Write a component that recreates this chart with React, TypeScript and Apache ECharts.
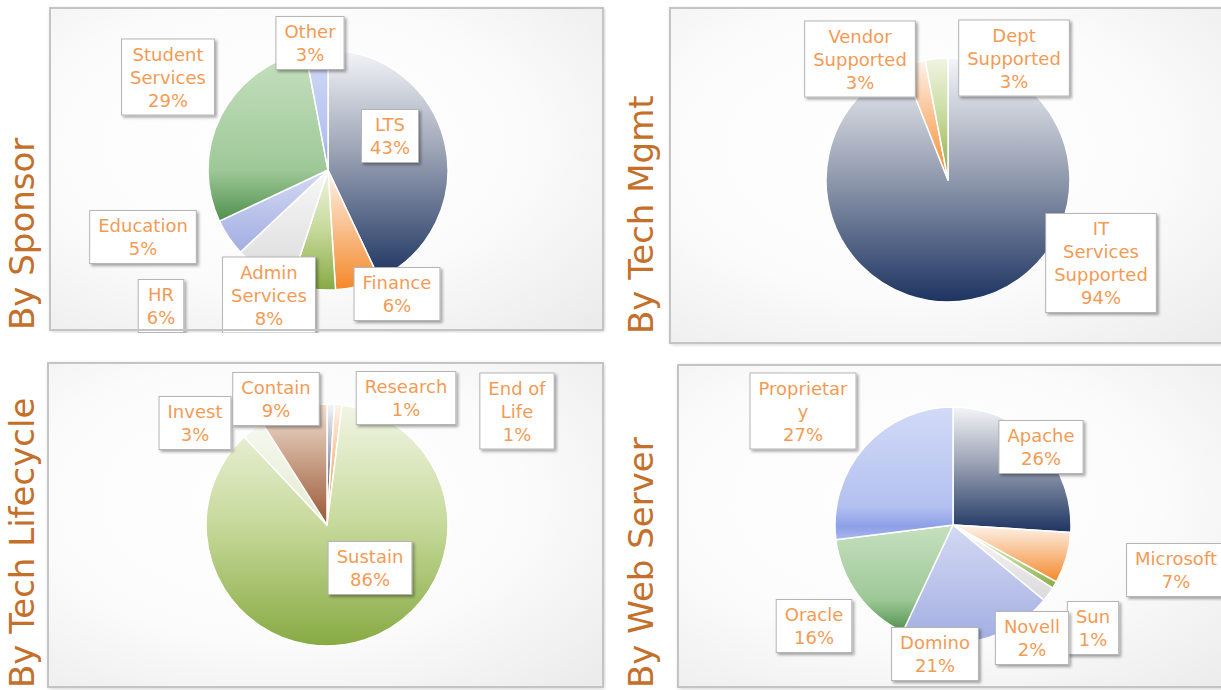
import React, { useEffect, useRef } from "react";
import * as echarts from "echarts";

// ---------------- data ----------------
const panelTitles = ["By Sponsor", "By Tech Mgmt", "By Tech Lifecycle", "By Web Server"];

const sponsorNames = ["LTS", "Finance", "HR", "Admin\nServices", "Education", "Student\nServices", "Other"];
const sponsorValues = [43, 6, 6, 8, 5, 29, 3];

const mgmtNames = ["IT\nServices\nSupported", "Vendor\nSupported", "Dept\nSupported"];
const mgmtValues = [94, 3, 3];

const lifecycleNames = ["Research", "End of\nLife", "Sustain", "Invest", "Contain"];
const lifecycleValues = [1, 1, 86, 3, 9];

const webNames = ["Apache", "Microsoft", "Sun", "Novell", "Domino", "Oracle", "Proprietar\ny"];
const webValues = [26, 7, 1, 2, 21, 16, 27];

// ---------------- styles ----------------
type Stops = [number, string][];
const NAVY: Stops = [[0, "#f4f5f8"], [0.45, "#9aa2b4"], [1, "#1d3461"]];
const ORANGE: Stops = [[0, "#fdf3ea"], [1, "#f5882a"]];
const OLIVE: Stops = [[0, "#f1f5e4"], [0.5, "#c6d99a"], [1, "#87aa43"]];
const GRAY: Stops = [[0, "#f8f8f8"], [1, "#dadada"]];
const PALE: Stops = [[0, "#f6f8ef"], [1, "#e4ebd2"]];
const LAVENDER: Stops = [[0, "#d3d9f3"], [1, "#a3aee2"]];
const GREEN: Stops = [[0, "#c6e0bf"], [0.7, "#9ec897"], [1, "#4f904c"]];
const BLUE: Stops = [[0, "#d2daf6"], [0.75, "#b3c1f0"], [0.9, "#8d9fe6"], [1, "#aab8ee"]];
const BROWN: Stops = [[0, "#f1e0d3"], [1, "#9a5732"]];

const sponsorColors = [NAVY, ORANGE, OLIVE, GRAY, LAVENDER, GREEN, BLUE];
const mgmtColors = [NAVY, ORANGE, OLIVE];
const lifecycleColors = [NAVY, ORANGE, OLIVE, PALE, BROWN];
const webColors = [NAVY, ORANGE, OLIVE, GRAY, LAVENDER, GREEN, BLUE];

const TITLE_COLOR = "#c4702b";
const LABEL_COLOR = "#f39b55";

// layout (page coordinates)
const panels = [
  {
    title: panelTitles[0], names: sponsorNames, values: sponsorValues, colors: sponsorColors,
    div: [0, 0, 606, 333], box: [50, 8, 603, 330], titleAt: [22, 330],
    center: [328, 170], radius: 120,
    spots: [[390, 136], [397, 294], [161, 306], [269, 295], [143, 237], [168, 77], [310, 43]],
  },
  {
    title: panelTitles[1], names: mgmtNames, values: mgmtValues, colors: mgmtColors,
    div: [612, 0, 609, 347], box: [670, 8, 1240, 343], titleAt: [641, 334],
    center: [948, 180], radius: 122,
    spots: [[1101, 263], [860, 59], [1014, 58]],
  },
  {
    title: panelTitles[2], names: lifecycleNames, values: lifecycleValues, colors: lifecycleColors,
    div: [0, 352, 606, 338], box: [48, 363, 603, 687], titleAt: [22, 688],
    center: [327, 525], radius: 121,
    spots: [[406, 398], [517, 411], [370, 568], [195, 423], [276, 399]],
  },
  {
    title: panelTitles[3], names: webNames, values: webValues, colors: webColors,
    div: [612, 352, 609, 338], box: [678, 365, 1240, 687], titleAt: [641, 688],
    center: [953, 525], radius: 118,
    spots: [[1041, 447], [1176, 570], [1093, 628], [1032, 638], [935, 654], [814, 626], [803, 411]],
  },
];

type Panel = (typeof panels)[number];

function grad(stops: Stops) {
  return {
    type: "linear", x: 0, y: 0, x2: 0, y2: 1,
    colorStops: stops.map(([offset, color]) => ({ offset, color })),
  };
}

function buildOption(p: Panel) {
  const [dx, dy] = p.div;
  const [bx0, by0, bx1, by1] = p.box;
  const box = { x: bx0 - dx, y: by0 - dy, width: bx1 - bx0, height: by1 - by0 };
  return {
    animation: false,
    graphic: [
      {
        type: "rect", z: -10, silent: true,
        shape: box,
        style: {
          fill: {
            type: "radial", x: 0.42, y: 0.42, r: 0.8,
            colorStops: [
              { offset: 0, color: "#ffffff" },
              { offset: 0.55, color: "#fbfbfb" },
              { offset: 1, color: "#ebebeb" },
            ],
          },
          shadowBlur: 4, shadowColor: "rgba(0,0,0,0.25)", shadowOffsetX: 1, shadowOffsetY: 1,
        },
      },
      {
        type: "rect", z: 100, silent: true,
        shape: box,
        style: { fill: "none", stroke: "#c4c4c4", lineWidth: 2 },
      },
      {
        type: "text", z: 101, silent: true,
        x: p.titleAt[0] - dx, y: p.titleAt[1] - dy, rotation: Math.PI / 2,
        style: {
          text: p.title, fill: TITLE_COLOR, fontSize: 34, fontFamily: "DejaVu Sans",
          align: "left", verticalAlign: "middle",
        },
      },
    ],
    series: [
      {
        type: "pie",
        center: [p.center[0] - dx, p.center[1] - dy],
        radius: p.radius,
        startAngle: 90,
        clockwise: true,
        avoidLabelOverlap: false,
        silent: true,
        emphasis: { disabled: true },
        itemStyle: { borderColor: "#ffffff", borderWidth: 1.5 },
        label: {
          show: true,
          position: "outside",
          formatter: (q: any) => `${q.name}\n${q.value}%`,
          color: LABEL_COLOR,
          fontFamily: "DejaVu Sans",
          fontSize: 18,
          lineHeight: 23,
          align: "center",
          backgroundColor: "#ffffff",
          borderColor: "#b5b5b5",
          borderWidth: 1,
          padding: [3, 8, 3, 8],
          shadowColor: "rgba(0,0,0,0.35)",
          shadowBlur: 3,
          shadowOffsetX: 2,
          shadowOffsetY: 2,
        },
        labelLine: { show: false },
        labelLayout: (params: any) => {
          const s = p.spots[params.dataIndex];
          return { x: s[0] - dx, y: s[1] - dy, align: "center", verticalAlign: "middle" };
        },
        data: p.names.map((name, i) => ({
          name,
          value: p.values[i],
          itemStyle: { color: grad(p.colors[i]) },
        })),
      },
    ],
  };
}

function PiePanel({ panel }: { panel: Panel }) {
  const ref = useRef<HTMLDivElement>(null);
  useEffect(() => {
    const chart = echarts.init(ref.current as HTMLDivElement, null, { renderer: "svg" });
    chart.setOption(buildOption(panel) as any);
    return () => chart.dispose();
  }, [panel]);
  const [l, t, w, h] = panel.div;
  return (
    <div
      ref={ref}
      style={{ position: "absolute", left: l, top: t, width: w, height: h, overflow: "hidden" }}
    />
  );
}

export default function App() {
  return (
    <div
      style={{
        position: "fixed", left: 0, top: 0, width: 1221, height: 690,
        background: "#ffffff", overflow: "hidden",
      }}
    >
      {panels.map((p, i) => (
        <PiePanel key={i} panel={p} />
      ))}
    </div>
  );
}
